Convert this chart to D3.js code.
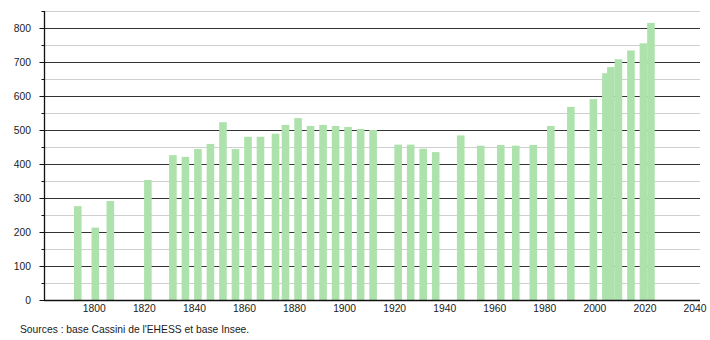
<!DOCTYPE html>
<html>
<head>
<meta charset="utf-8">
<script src="https://cdn.jsdelivr.net/npm/d3@7"></script>
<style>
    body { margin: 0; background: #fff; }
    svg text { font-family: "Liberation Sans", Arial, sans-serif; fill: #1a1a1a; }
</style>
</head>
<body>
<div id="chart"></div>
<script>
// census years and population
const years = [1793, 1800, 1806, 1821, 1831, 1836, 1841, 1846, 1851, 1856,
    1861, 1866, 1872, 1876, 1881, 1886, 1891, 1896, 1901, 1906,
    1911, 1921, 1926, 1931, 1936, 1946, 1954, 1962, 1968, 1975,
    1982, 1990, 1999, 2004, 2006, 2009, 2014, 2019, 2022];
const population = [276, 213, 291, 353, 426, 421, 444, 459, 523, 444,
    480, 480, 489, 515, 535, 512, 515, 512, 509, 503,
    500, 457, 457, 445, 435, 484, 454, 456, 454, 456,
    512, 568, 591, 667, 685, 708, 734, 755, 815];
const xTicks = [1800, 1820, 1840, 1860, 1880, 1900, 1920, 1940, 1960, 1980, 2000, 2020, 2040];
const yTicks = [0, 100, 200, 300, 400, 500, 600, 700, 800];
const yMinor = [50, 150, 250, 350, 450, 550, 650, 750, 850];
const sourceText = "Sources : base Cassini de l'EHESS et base Insee.";

const W = 710, H = 340;
const plot = { left: 44, right: 701, top: 11, bottom: 300 };
const barW = 7.6;
const fontSize = 10.3;

const svg = d3.select("#chart").append("svg")
    .attr("width", W)
    .attr("height", H);

const x = d3.scaleLinear().domain([1779.5, 2042]).range([plot.left, plot.right]);
const y = d3.scaleLinear().domain([0, 850]).range([plot.bottom, plot.top]);

// light gridlines (50s)
svg.append("g")
    .selectAll("line")
    .data(yMinor)
    .enter().append("line")
    .attr("x1", plot.left).attr("x2", 700)
    .attr("y1", d => Math.round(y(d)) + 0.5)
    .attr("y2", d => Math.round(y(d)) + 0.5)
    .attr("stroke", "#cfcfcf");

// dark gridlines (100s)
svg.append("g")
    .selectAll("line")
    .data(yTicks.filter(d => d > 0))
    .enter().append("line")
    .attr("x1", plot.left).attr("x2", 700)
    .attr("y1", d => Math.round(y(d)) + 0.5)
    .attr("y2", d => Math.round(y(d)) + 0.5)
    .attr("stroke", "#333");

// bars
const points = years.map((yr, i) => ({ year: yr, value: population[i] }));
svg.append("g")
    .selectAll("rect")
    .data(points)
    .enter().append("rect")
    .attr("x", d => x(d.year) - barW / 2)
    .attr("y", d => y(d.value))
    .attr("width", barW)
    .attr("height", d => y(0) - y(d.value))
    .attr("fill", "#ade2ad");

// y axis
const yAxis = svg.append("g")
    .attr("transform", `translate(${plot.left + 0.5},0)`);
yAxis.append("line")
    .attr("y1", plot.top).attr("y2", plot.bottom)
    .attr("stroke", "#111").attr("stroke-width", 1.3);
yAxis.selectAll(".major")
    .data(yTicks)
    .enter().append("line")
    .attr("x1", -5).attr("x2", 0)
    .attr("y1", d => Math.round(y(d)) + 0.5)
    .attr("y2", d => Math.round(y(d)) + 0.5)
    .attr("stroke", "#111");
yAxis.selectAll(".minor")
    .data(yMinor)
    .enter().append("line")
    .attr("x1", -3).attr("x2", 0)
    .attr("y1", d => Math.round(y(d)) + 0.5)
    .attr("y2", d => Math.round(y(d)) + 0.5)
    .attr("stroke", "#111");
yAxis.selectAll("text")
    .data(yTicks)
    .enter().append("text")
    .attr("x", -13.5)
    .attr("y", d => y(d) + 3.6)
    .attr("text-anchor", "end")
    .attr("font-size", fontSize)
    .text(d => d);

// x axis
svg.append("line")
    .attr("x1", plot.left).attr("x2", 700)
    .attr("y1", plot.bottom + 0.5).attr("y2", plot.bottom + 0.5)
    .attr("stroke", "#111").attr("stroke-width", 1.3);
svg.append("g")
    .selectAll("text")
    .data(xTicks)
    .enter().append("text")
    .attr("x", d => x(d) - 1)
    .attr("y", 311.7)
    .attr("text-anchor", "middle")
    .attr("font-size", fontSize)
    .text(d => d);

// source
svg.append("text")
    .attr("x", 20)
    .attr("y", 333)
    .attr("font-size", fontSize)
    .text(sourceText);
</script>
</body>
</html>
